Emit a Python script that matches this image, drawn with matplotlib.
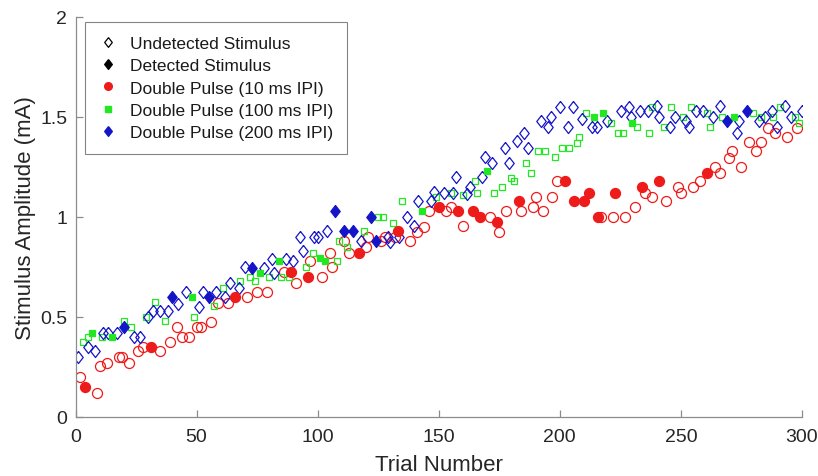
import matplotlib
matplotlib.use("Agg")
import matplotlib.pyplot as plt
from matplotlib.lines import Line2D

plt.rcParams['font.family'] = ['Liberation Sans', 'DejaVu Sans']

# Double pulse, 10 ms IPI (trial, amplitude, detected)
red_trial = [2, 4, 9, 10, 13, 18, 19, 22, 26, 28, 31, 35, 39, 42, 44, 47, 50, 52, 56, 59,
             63, 66, 71, 75, 79, 86, 89, 91, 96, 97, 102, 105, 106, 111, 113, 117, 120, 121,
             126, 128, 132, 133, 138, 141, 144, 146, 150, 153, 155, 158, 160, 164, 167, 171,
             174, 175, 178, 183, 184, 189, 190, 193, 197, 199, 202, 206, 210, 212, 216, 217,
             222, 223, 227, 231, 234, 235, 238, 241, 244, 249, 250, 255, 258, 261, 264, 266,
             270, 271, 275, 278, 281, 283, 286, 289, 294, 298]
red_amp = [0.20, 0.15, 0.12, 0.255, 0.27, 0.30, 0.30, 0.27, 0.33, 0.35, 0.35, 0.33, 0.375, 0.45,
           0.40, 0.40, 0.45, 0.45, 0.475, 0.57, 0.57, 0.60, 0.60, 0.625, 0.625, 0.725, 0.725,
           0.67, 0.70, 0.78, 0.70, 0.82, 0.75, 0.88, 0.82, 0.82, 0.85, 0.90, 0.88, 0.90, 0.90,
           0.93, 0.88, 0.925, 0.95, 1.03, 1.05, 1.03, 1.05, 1.03, 0.955, 1.03, 1.00, 1.00,
           0.975, 0.925, 1.03, 1.08, 1.03, 1.05, 1.10, 1.03, 1.10, 1.18, 1.18, 1.08, 1.08,
           1.12, 1.00, 1.00, 1.00, 1.12, 1.00, 1.05, 1.15, 1.12, 1.10, 1.18, 1.08, 1.15, 1.12,
           1.15, 1.18, 1.22, 1.25, 1.22, 1.295, 1.33, 1.25, 1.375, 1.33, 1.375, 1.445, 1.42,
           1.40, 1.445]
red_det = [0, 1, 0, 0, 0, 0, 0, 0, 0, 0, 1, 0, 0, 0, 0, 0, 0, 0, 0, 0,
           0, 1, 0, 0, 0, 0, 1, 0, 1, 0, 0, 0, 0, 0, 0, 1, 0, 0,
           0, 0, 0, 1, 0, 0, 0, 0, 1, 0, 0, 1, 0, 1, 1, 0,
           1, 0, 0, 1, 0, 0, 0, 0, 0, 0, 1, 1, 1, 1, 1, 0,
           0, 1, 0, 0, 1, 0, 0, 1, 0, 0, 0, 0, 0, 1, 0, 0,
           0, 0, 0, 0, 0, 0, 0, 0, 0, 0]

# Double pulse, 100 ms IPI
green_trial = [3, 5, 7, 11, 15, 20, 23, 29, 33, 37, 48, 49, 57, 61, 68, 72, 74, 76, 80, 84,
               85, 88, 95, 98, 101, 103, 108, 109, 112, 119, 125, 127, 131, 135, 143, 149,
               155, 160, 165, 166, 170, 173, 176, 180, 181, 186, 188, 191, 194, 198, 201,
               204, 207, 208, 211, 214, 218, 221, 224, 226, 230, 232, 237, 238, 243, 246,
               251, 254, 261, 262, 267, 272, 280, 283, 288, 291, 297, 299]
green_amp = [0.375, 0.40, 0.42, 0.40, 0.40, 0.48, 0.45, 0.50, 0.575, 0.48, 0.60, 0.50, 0.555,
             0.645, 0.68, 0.70, 0.68, 0.72, 0.70, 0.78, 0.70, 0.70, 0.75, 0.82, 0.795, 0.78,
             0.78, 0.88, 0.85, 0.93, 1.00, 1.00, 0.97, 1.08, 1.03, 1.10, 1.12, 1.11, 1.18,
             1.12, 1.23, 1.12, 1.15, 1.195, 1.18, 1.27, 1.22, 1.33, 1.33, 1.30, 1.345, 1.345,
             1.37, 1.40, 1.52, 1.50, 1.52, 1.47, 1.42, 1.42, 1.47, 1.45, 1.42, 1.55, 1.45,
             1.55, 1.50, 1.55, 1.52, 1.45, 1.50, 1.50, 1.52, 1.50, 1.50, 1.55, 1.50, 1.47]
green_det = [0, 0, 1, 0, 1, 0, 0, 0, 0, 0, 1, 0, 0, 0, 0, 0, 0, 1, 0, 1,
             0, 0, 0, 0, 1, 1, 0, 0, 0, 0, 0, 0, 0, 0, 1, 0,
             0, 0, 0, 0, 1, 0, 0, 0, 0, 0, 0, 0, 0, 0, 0,
             0, 0, 0, 0, 1, 1, 0, 0, 0, 1, 0, 0, 0, 0, 0,
             0, 0, 0, 0, 0, 1, 0, 0, 0, 0, 0, 0]

# Double pulse, 200 ms IPI
blue_trial = [1, 5, 8, 11.5, 13.5, 17, 20, 24, 26.6, 30, 32, 35, 38, 40, 42.5, 45.6, 50.8,
              52.8, 55, 58, 61.8, 63.8, 67.7, 70, 72.8, 78, 81, 82, 87, 89.7, 92.7, 93.8,
              98.7, 100.1, 104, 107, 111, 114.7, 118, 122, 124, 129, 130, 133.7, 137, 140,
              141.6, 146.7, 148, 152, 156, 157.2, 161.6, 163, 167.8, 169, 172, 177.4, 179.2,
              182.2, 185.3, 187, 192.3, 195, 196.3, 200.3, 203.6, 205.4, 209.3, 213.2, 215.3,
              219.7, 225.2, 228.4, 229.3, 233.2, 236.4, 240.1, 241, 245.5, 247.5, 252.2, 253.5,
              256.3, 259.3, 263.2, 266.2, 269.2, 273.1, 274.2, 277.5, 282.4, 284.8, 287.6,
              289.9, 293, 295.4, 300]
blue_amp = [0.30, 0.35, 0.33, 0.42, 0.42, 0.42, 0.45, 0.40, 0.40, 0.50, 0.53, 0.53, 0.53, 0.60,
            0.565, 0.625, 0.55, 0.625, 0.60, 0.625, 0.60, 0.67, 0.645, 0.75, 0.745, 0.745, 0.79,
            0.72, 0.79, 0.78, 0.90, 0.83, 0.90, 0.90, 0.93, 1.03, 0.93, 0.93, 0.88, 1.00, 0.88,
            0.90, 0.875, 0.90, 1.00, 0.955, 1.08, 1.08, 1.125, 1.12, 1.12, 1.20, 1.115, 1.15,
            1.20, 1.30, 1.27, 1.345, 1.27, 1.38, 1.42, 1.345, 1.48, 1.45, 1.50, 1.55, 1.45,
            1.55, 1.49, 1.45, 1.45, 1.48, 1.53, 1.55, 1.50, 1.53, 1.53, 1.555, 1.50, 1.45, 1.50,
            1.48, 1.45, 1.53, 1.53, 1.50, 1.555, 1.48, 1.42, 1.48, 1.53, 1.48, 1.50, 1.53, 1.45,
            1.555, 1.50, 1.53]
blue_det = [0, 0, 0, 0, 0, 0, 1, 0, 0, 0, 0, 0, 0, 1, 0, 0, 0,
            0, 1, 0, 0, 0, 0, 0, 1, 0, 0, 0, 0, 0, 0, 0,
            0, 0, 0, 1, 1, 1, 0, 1, 1, 0, 0, 0, 0, 0,
            0, 0, 0, 0, 0, 0, 0, 0, 0, 0, 0, 0, 0,
            0, 0, 0, 0, 0, 0, 0, 0, 0, 0, 0, 0,
            0, 0, 0, 0, 0, 0, 0, 0, 0, 0, 0, 0,
            0, 0, 0, 0, 1, 0, 0, 1, 0, 0, 0,
            0, 0, 0, 0]

RED = '#ee1b1b'
GREEN = '#22e822'
BLUE = '#1414c8'
AXC = '#8c8c8c'
TXT = '#262626'
diamond = [(0, 1), (0.78, 0), (0, -1), (-0.78, 0), (0, 1)]


def split(xs, ys, det):
    op = ([x for x, d in zip(xs, det) if not d], [y for y, d in zip(ys, det) if not d])
    fl = ([x for x, d in zip(xs, det) if d], [y for y, d in zip(ys, det) if d])
    return op, fl


fig = plt.figure(figsize=(8.18, 4.77), dpi=100)
ax = fig.add_axes([0.0923, 0.1237, 0.888, 0.8386])

r_open, r_fill = split(red_trial, red_amp, red_det)
g_open, g_fill = split(green_trial, green_amp, green_det)
b_open, b_fill = split(blue_trial, blue_amp, blue_det)

ax.plot(*r_open, ls='none', marker='o', ms=7.2, mfc='none', mec=RED, mew=0.9)
ax.plot(*g_open, ls='none', marker='s', ms=5.0, mfc='none', mec=GREEN, mew=0.9)
ax.plot(*b_open, ls='none', marker=diamond, ms=8.7, mfc='none', mec=BLUE, mew=0.9)
ax.plot(*r_fill, ls='none', marker='o', ms=7.2, mfc=RED, mec=RED, mew=0.9)
ax.plot(*g_fill, ls='none', marker='s', ms=5.0, mfc=GREEN, mec=GREEN, mew=0.9)
ax.plot(*b_fill, ls='none', marker=diamond, ms=8.7, mfc=BLUE, mec=BLUE, mew=0.9)

ax.set_xlim(0, 300)
ax.set_ylim(0, 2)
ax.set_xticks([0, 50, 100, 150, 200, 250, 300])
ax.set_yticks([0, 0.5, 1, 1.5, 2])
ax.set_yticklabels(['0', '0.5', '1', '1.5', '2'])
for s in ['top', 'right']:
    ax.spines[s].set_visible(False)
for s in ['left', 'bottom']:
    ax.spines[s].set_color(AXC)
    ax.spines[s].set_linewidth(0.9)
ax.tick_params(direction='in', length=5, width=0.9, color=AXC,
               labelcolor=TXT, labelsize=14)
ax.tick_params(axis='x', pad=8)
ax.tick_params(axis='y', pad=6)
ax.set_xlabel('Trial Number', fontsize=16, color=TXT)
ax.set_ylabel('Stimulus Amplitude (mA)', fontsize=16, color=TXT)
ax.xaxis.set_label_coords(0.5, -0.093)
ax.yaxis.set_label_coords(-0.055, 0.5)

handles = [
    Line2D([], [], ls='none', marker=diamond, ms=7, mfc='none', mec='black', mew=0.9),
    Line2D([], [], ls='none', marker=diamond, ms=7, mfc='black', mec='black'),
    Line2D([], [], ls='none', marker='o', ms=5.5, mfc=RED, mec=RED),
    Line2D([], [], ls='none', marker='s', ms=4.5, mfc=GREEN, mec=GREEN),
    Line2D([], [], ls='none', marker=diamond, ms=7, mfc=BLUE, mec=BLUE),
]
labels = ['Undetected Stimulus', 'Detected Stimulus', 'Double Pulse (10 ms IPI)',
          'Double Pulse (100 ms IPI)', 'Double Pulse (200 ms IPI)']
leg = ax.legend(handles, labels, loc='upper left', bbox_to_anchor=(0.013, 0.9875),
                fontsize=12.5, frameon=True, fancybox=False, borderpad=0.8,
                labelspacing=0.41, handletextpad=0.75, handlelength=1.03, borderaxespad=0)
leg.get_frame().set_edgecolor('#666666')
leg.get_frame().set_linewidth(0.8)
for t in leg.get_texts():
    t.set_color('#1a1a1a')

fig.savefig('out.png', dpi=100)
